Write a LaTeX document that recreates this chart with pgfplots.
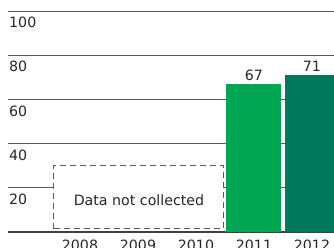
\documentclass[border=0pt]{standalone}
\usepackage{fontspec}
\setmainfont{DejaVu Sans}
\usepackage{pgfplots}
\pgfplotsset{compat=1.18}
\definecolor{barA}{RGB}{0,166,81}
\definecolor{barB}{RGB}{0,121,92}
\definecolor{gridc}{RGB}{90,90,90}
\begin{document}
\begin{tikzpicture}[font=\fontsize{14.2pt}{16pt}\selectfont]
\useasboundingbox (0,0) rectangle (334pt,247pt);
\clip (0,0) rectangle (334pt,247pt);
\begin{axis}[
  at={(8pt,15pt)}, anchor=south west,
  scale only axis, width=337pt, height=221pt,
  xmin=-1.241, xmax=4.569, ymin=0, ymax=100,
  axis line style={draw=none},
  major tick style={draw=none},
  /pgf/number format/assume math mode=true,
  ytick={20,40,60,80,100},
  ymajorgrids,
  grid style={gridc, line width=1pt},
  extra y ticks={0},
  extra y tick labels={},
  extra y tick style={grid style={black!75, line width=1.5pt}},
  yticklabel style={anchor=north west, inner sep=0pt, xshift=1pt, yshift=-6pt, text=black!85},
  xtick={0,1,2,3,4},
  xticklabels={2008,2009,2010,2011,2012},
  xticklabel style={text=black!85},
  ybar, bar width=55pt, bar shift=0pt,
  nodes near coords,
  every node near coord/.append style={text=black!85},
  clip=false,
]
\addplot[draw=none, fill=barA] coordinates {(3,67)};
\addplot[draw=none, fill=barB] coordinates {(4,71)};
\draw[gridc, line width=1pt, dash pattern=on 6pt off 4pt, fill=white]
  (axis cs:-0.448,1.5) rectangle (axis cs:2.474,30.3);
\node[text=black!85] at (axis cs:1.017,14.3) {Data not collected};
\end{axis}
\end{tikzpicture}
\end{document}
